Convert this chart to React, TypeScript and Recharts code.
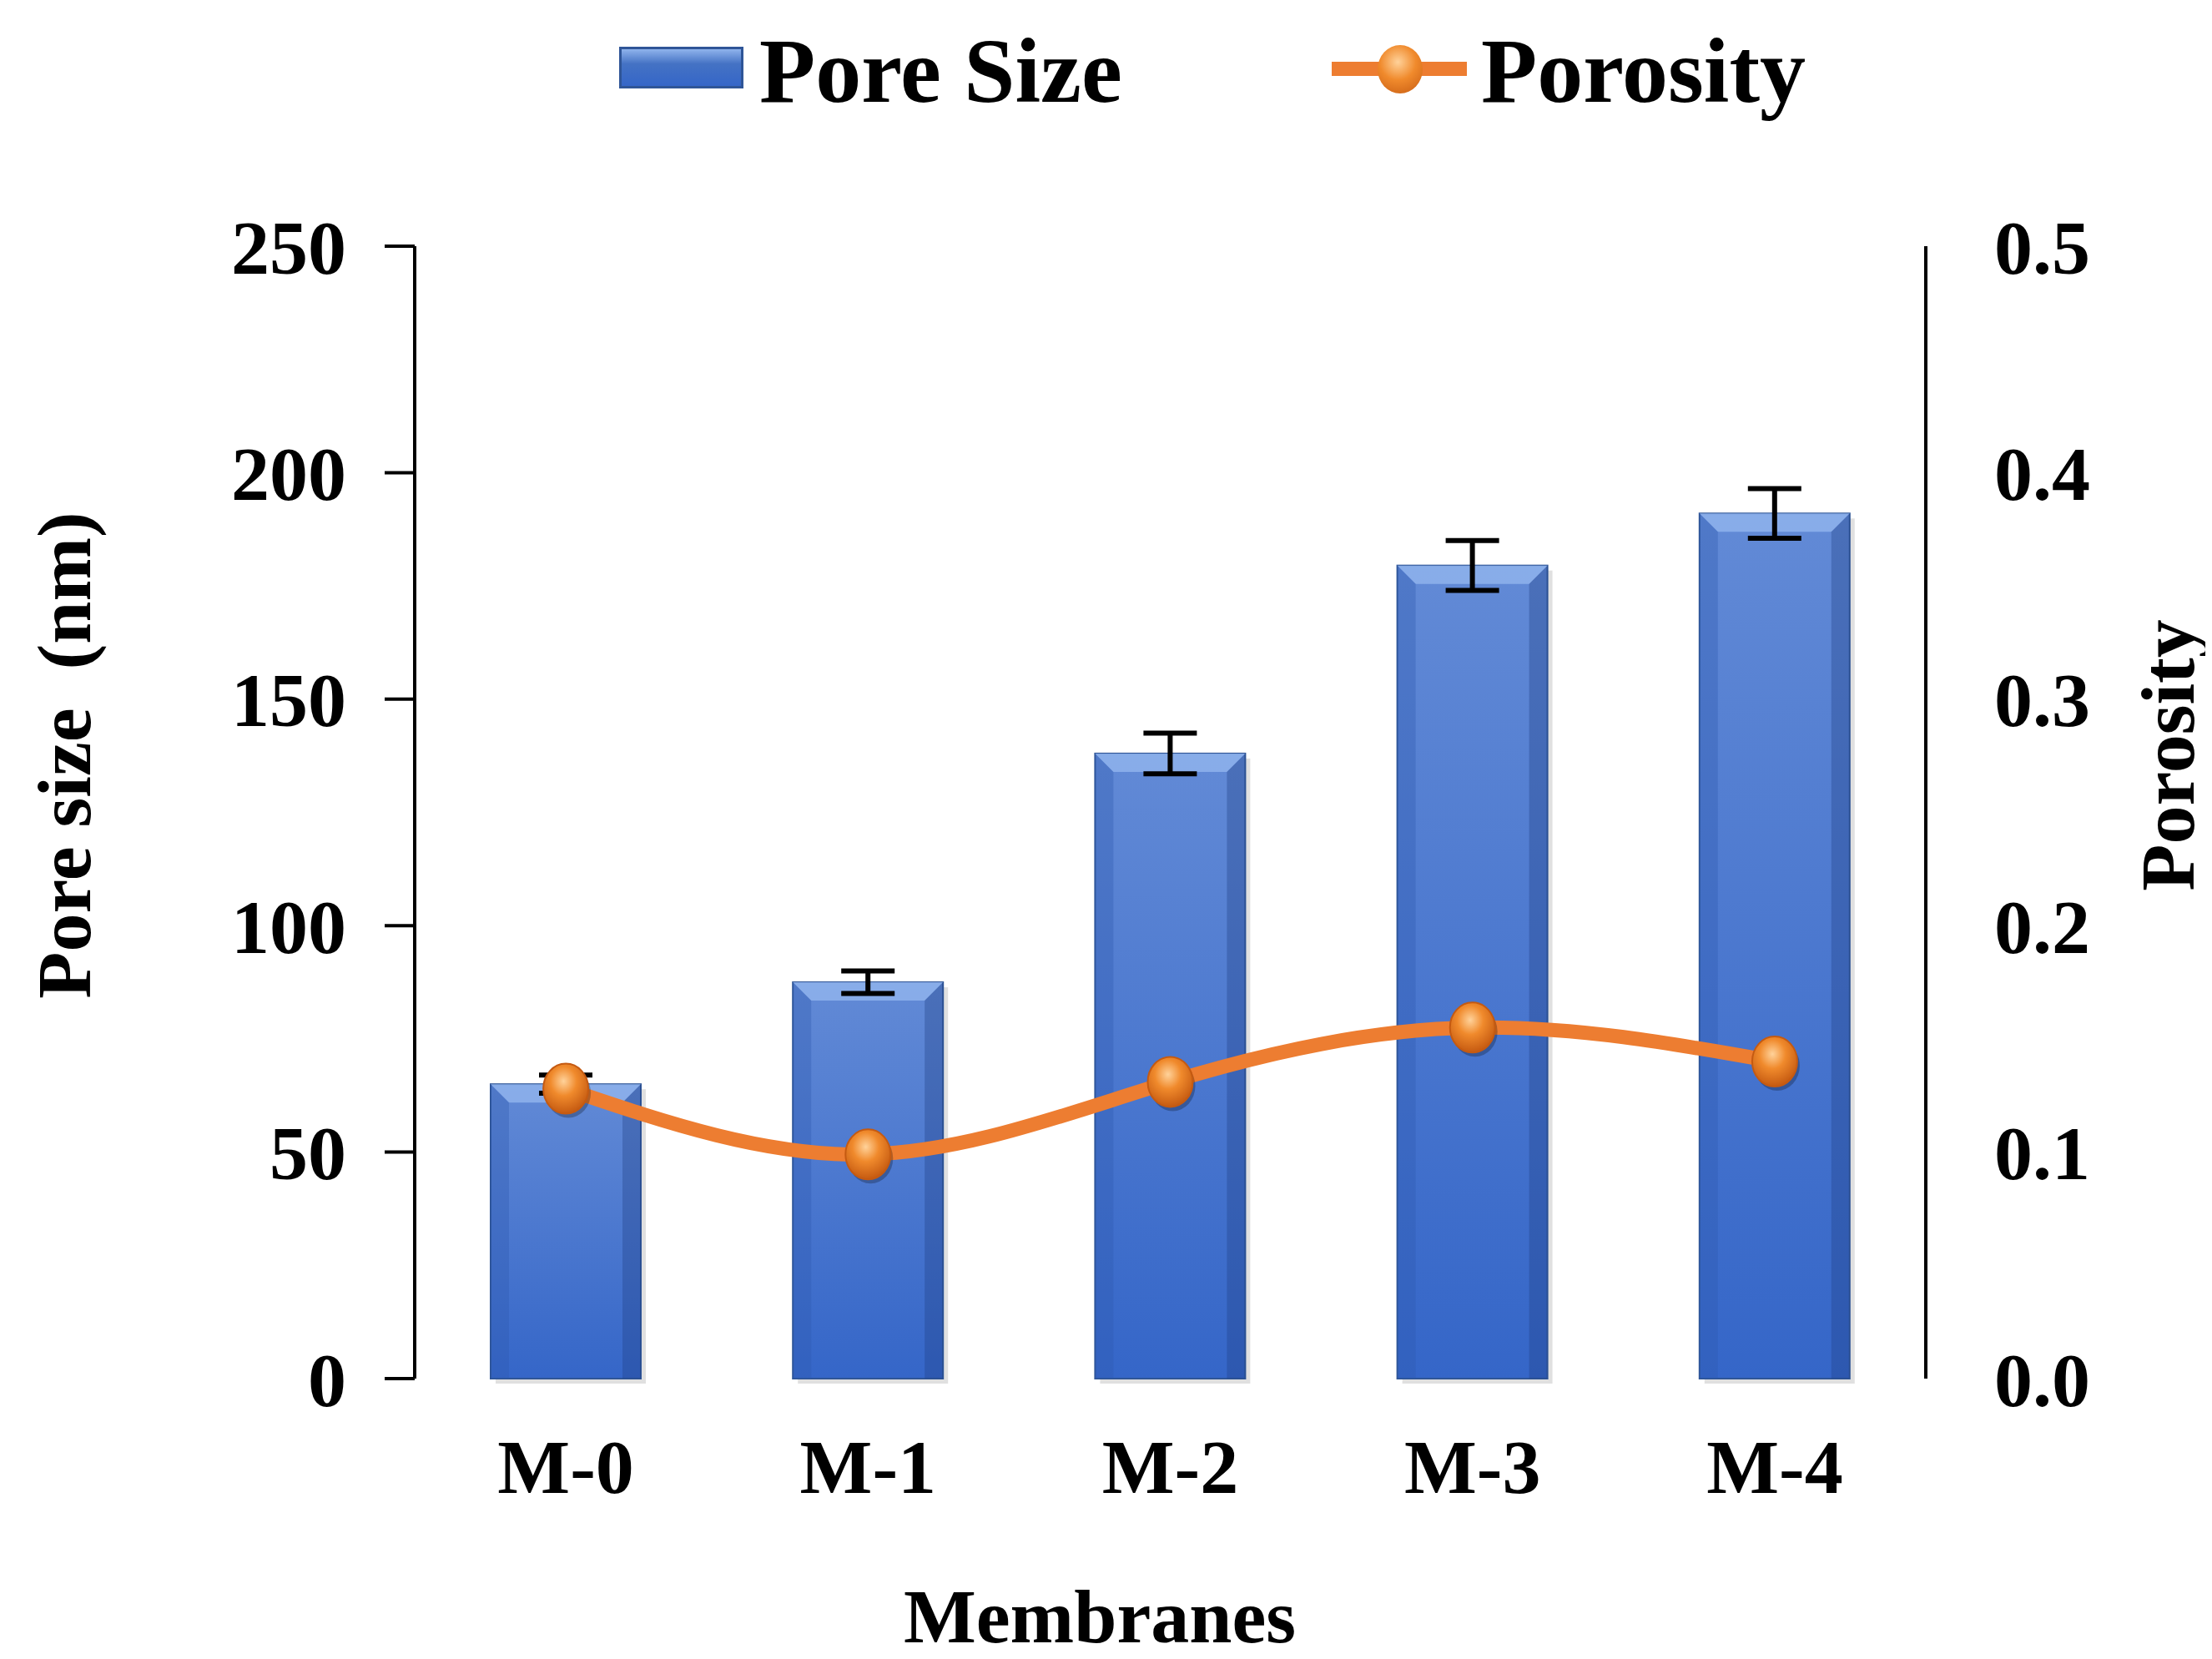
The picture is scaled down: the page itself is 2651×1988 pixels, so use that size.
import React from 'react';
import { ComposedChart, Bar, Line, XAxis, YAxis, ErrorBar } from 'recharts';

const categories = ['M-0', 'M-1', 'M-2', 'M-3', 'M-4'];
const poreSize = [65, 87.5, 138, 179.5, 191];
const poreErr = [2, 2.5, 4.5, 5.5, 5.5];
const porosity = [0.128, 0.099, 0.131, 0.155, 0.140];
const leftTicks = [0, 50, 100, 150, 200, 250];
const rightTicks = [0, 0.1, 0.2, 0.3, 0.4, 0.5];
const boundaryTicks = [0, 1, 2, 3, 4, 5];

const data = categories.map((c, i) => ({ name: c, idx: i + 0.5, pore: poreSize[i], err: poreErr[i], porosity: porosity[i] }));

const FONT = '"Liberation Serif", "Times New Roman", serif';

const BevelBar = (p: any) => {
  const { x, y, width, height } = p;
  if (!height || height <= 0) return null;
  const b = 22;
  return (
    <g>
      <rect x={x + 6} y={y + 6} width={width} height={height} fill="#000" opacity={0.12} />
      <rect x={x} y={y} width={width} height={height} fill="url(#barGrad)" stroke="#2F5597" strokeWidth={2} />
      <polygon points={`${x},${y} ${x + width},${y} ${x + width - b},${y + b} ${x + b},${y + b}`} fill="#8FB3EC" opacity={0.85} />
      <polygon points={`${x},${y} ${x + b},${y + b} ${x + b},${y + height} ${x},${y + height}`} fill="#2F5AAE" opacity={0.35} />
      <polygon points={`${x + width},${y} ${x + width - b},${y + b} ${x + width - b},${y + height} ${x + width},${y + height}`} fill="#1F3F85" opacity={0.35} />
    </g>
  );
};

const Dot = (p: any) => {
  const { cx, cy } = p;
  return (
    <g>
      <ellipse cx={cx + 3} cy={cy + 5} rx={27} ry={30} fill="#000" opacity={0.25} />
      <ellipse cx={cx} cy={cy} rx={27} ry={30} fill="url(#dotGrad)" stroke="#C55A11" strokeWidth={2} />
    </g>
  );
};

const CrossTick = (p: any) => {
  const { x, y } = p;
  return <line x1={x} x2={x} y1={y - 30} y2={y + 30} stroke="#000" strokeWidth={6} />;
};

const textStyle: React.CSSProperties = { position: 'absolute', fontFamily: FONT, fontWeight: 'bold', color: '#000', whiteSpace: 'nowrap', lineHeight: 1 };

export default function App() {
  return (
    <div style={{ position: 'relative', width: 2651, height: 1988, margin: '-8px 0 0 -8px', background: '#fff' }}>
      <ComposedChart width={2651} height={1988} data={data} margin={{ top: 295, right: 143, bottom: 186, left: 297 }}>
        <defs>
          <linearGradient id="barGrad" x1="0" y1="0" x2="0" y2="1">
            <stop offset="0%" stopColor="#628AD6" />
            <stop offset="100%" stopColor="#3566C8" />
          </linearGradient>
          <radialGradient id="dotGrad" cx="45%" cy="35%" r="65%">
            <stop offset="0%" stopColor="#FFD29A" />
            <stop offset="45%" stopColor="#F08A2C" />
            <stop offset="100%" stopColor="#C55A11" />
          </radialGradient>
        </defs>
        <XAxis dataKey="name" xAxisId="cat" axisLine={false} tickLine={false} tickSize={0} tickMargin={72}
          tick={{ fontSize: 92, fontFamily: FONT, fontWeight: 'bold', fill: '#000' }} height={150} />
        <XAxis xAxisId="num" type="number" dataKey="idx" domain={[0, 5]} ticks={boundaryTicks} hide={false}
          axisLine={{ stroke: '#000', strokeWidth: 6 }} tickLine={false} tickSize={0} tickMargin={0} tick={<CrossTick />} height={0} />
        <XAxis xAxisId="top" orientation="top" dataKey="name" tick={false} tickLine={false} axisLine={{ stroke: '#000', strokeWidth: 4 }} height={0} />
        <YAxis yAxisId="left" domain={[0, 250]} ticks={leftTicks} width={200} axisLine={{ stroke: '#000', strokeWidth: 4 }}
          tickLine={{ stroke: '#000', strokeWidth: 4 }} tickSize={36} tickMargin={46}
          tick={{ fontSize: 92, fontFamily: FONT, fontWeight: 'bold', fill: '#000' }} />
        <YAxis yAxisId="right" orientation="right" domain={[0, 0.5]} ticks={rightTicks} width={200}
          axisLine={{ stroke: '#000', strokeWidth: 4 }} tickLine={false} tickSize={0} tickMargin={82}
          tickFormatter={(v: number) => v.toFixed(1)}
          tick={{ fontSize: 92, fontFamily: FONT, fontWeight: 'bold', fill: '#000' }} />
        <Bar xAxisId="cat" yAxisId="left" dataKey="pore" barSize={180} shape={<BevelBar />} isAnimationActive={false}>
          <ErrorBar dataKey="err" width={32} stroke="#000" strokeWidth={6} direction="y" />
        </Bar>
        <Line xAxisId="cat" yAxisId="right" type="natural" dataKey="porosity" stroke="#ED7D31" strokeWidth={17}
          dot={<Dot />} activeDot={false} isAnimationActive={false} />
      </ComposedChart>

      <div style={{ position: 'absolute', left: 742, top: 56, width: 149, height: 50, background: 'linear-gradient(#8FB3EC, #4472C4 40%, #3566C8)', border: '3px solid #2F5597', boxSizing: 'border-box' }} />
      <div style={{ ...textStyle, left: 910, top: 30, fontSize: 110 }}>Pore Size</div>
      <div style={{ position: 'absolute', left: 1596, top: 74, width: 162, height: 17, background: '#ED7D31' }} />
      <div style={{ position: 'absolute', left: 1651, top: 54, width: 54, height: 58, borderRadius: '50%', background: 'radial-gradient(circle at 45% 35%, #FFD29A, #F08A2C 45%, #C55A11)' }} />
      <div style={{ ...textStyle, left: 1775, top: 30, fontSize: 110 }}>Porosity</div>

      <div style={{ ...textStyle, left: 77, top: 905, fontSize: 92, transform: 'translate(-50%, -50%) rotate(-90deg)' }}>Pore size&nbsp;&nbsp;(nm)</div>
      <div style={{ ...textStyle, left: 2598, top: 905, fontSize: 92, transform: 'translate(-50%, -50%) rotate(-90deg)' }}>Porosity</div>
      <div style={{ ...textStyle, left: 1318, top: 1937, fontSize: 92, transform: 'translate(-50%, -50%)' }}>Membranes</div>
    </div>
  );
}
